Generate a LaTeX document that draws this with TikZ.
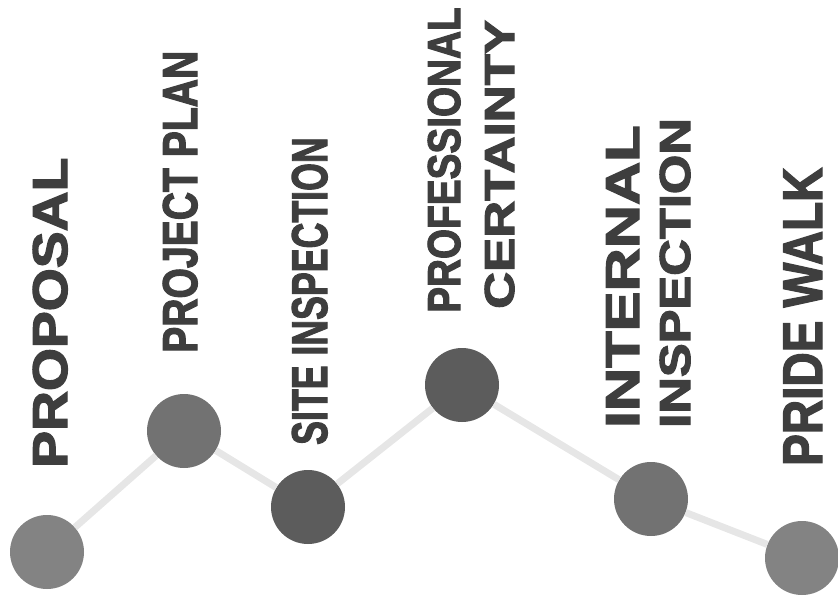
\documentclass[tikz,border=0pt]{standalone}
\usepackage{fontspec}
\setmainfont{Liberation Sans}[BoldFeatures={FakeBold=2.5}]
\definecolor{dotlight}{HTML}{838383}
\definecolor{dotmid}{HTML}{727272}
\definecolor{dotdark}{HTML}{5C5C5C}
\definecolor{linkgray}{HTML}{E6E6E6}
\definecolor{txtgray}{HTML}{3E3E3E}
\tikzset{
  dot/.style={circle, minimum size=74pt, inner sep=0pt},
  link/.style={draw=linkgray, line width=7pt},
  lbl/.style={rotate=90, anchor=base west, inner sep=0pt, text=txtgray,
    font=\bfseries\fontsize{#1}{#1}\selectfont},
}
\begin{document}
\begin{tikzpicture}[x=1pt, y=-1pt]
        \useasboundingbox (0,0) rectangle (838,600);
        % steps
        \node[dot, fill=dotlight] (proposal) at (47,552) {};
        \node[dot, fill=dotmid] (plan) at (184,431) {};
        \node[dot, fill=dotdark] (site) at (308,507) {};
        \node[dot, fill=dotdark] (certainty) at (462,385) {};
        \node[dot, fill=dotmid] (internal) at (651,499) {};
        \node[dot, fill=dotlight] (pride) at (802,558) {};
        \draw [link] (proposal) -- (plan);
        \draw [link] (plan) -- (site);
        \draw [link] (site) -- (certainty);
        \draw [link] (certainty) -- (internal);
        \draw [link] (internal) -- (pride);
        % labels
        \node[lbl=48.9, xscale=1.13] (tproposal) at (67,468) {PROPOSAL};
        \node[lbl=48.9, xscale=0.80] (tplan) at (197,353) {PROJECT PLAN};
        \node[lbl=50.3, xscale=0.71] (tsite) at (327,445) {SITE INSPECTION};
        \node[lbl=46.1, xscale=0.84] (tprof) at (460,313) {PROFESSIONAL};
        \node[lbl=41.9, xscale=1.22] (tcert) at (514,309) {CERTAINTY};
        \node[lbl=47.5, xscale=1.26] (tinternal) at (639,428) {INTERNAL};
        \node[lbl=43.3, xscale=1.17] (tinsp) at (690,428) {INSPECTION};
        \node[lbl=55.9, xscale=0.85] (tpride) at (822,466) {PRIDE WALK};
\end{tikzpicture}
\end{document}
